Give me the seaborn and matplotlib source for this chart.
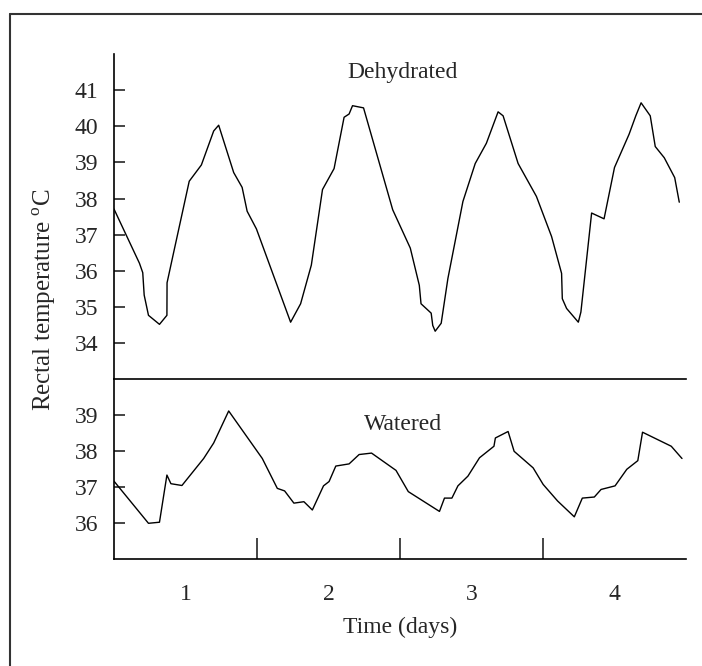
import numpy as np
import pandas as pd
import matplotlib.pyplot as plt
from matplotlib.lines import Line2D
import seaborn as sns

# dehydrated series (time in days, rectal temperature in C)
dehyd_days = [0.500, 0.678, 0.701, 0.711, 0.741, 0.818, 0.870, 0.871, 0.916, 1.026,
              1.111, 1.197, 1.232, 1.337, 1.396, 1.431, 1.496, 1.735, 1.805, 1.880,
              1.958, 2.039, 2.109, 2.144, 2.168, 2.245, 2.449, 2.572, 2.635, 2.647,
              2.718, 2.729, 2.746, 2.788, 2.835, 2.940, 3.026, 3.104, 3.186, 3.221,
              3.326, 3.454, 3.560, 3.630, 3.635, 3.665, 3.747, 3.765, 3.840, 3.927,
              4.000, 4.102, 4.149, 4.186, 4.250, 4.285, 4.348, 4.421, 4.453]
dehyd_temp = [37.71, 36.21, 35.95, 35.33, 34.77, 34.52, 34.77, 35.67, 36.49, 38.48,
              38.93, 39.87, 40.03, 38.72, 38.31, 37.65, 37.16, 34.58, 35.09, 36.16,
              38.25, 38.83, 40.25, 40.34, 40.57, 40.51, 37.69, 36.63, 35.60, 35.09,
              34.83, 34.49, 34.33, 34.55, 35.79, 37.92, 38.97, 39.53, 40.40, 40.29,
              38.97, 38.06, 36.95, 35.93, 35.23, 34.96, 34.58, 34.86, 37.60, 37.44,
              38.86, 39.78, 40.29, 40.65, 40.29, 39.44, 39.13, 38.58, 37.90]

# watered series
water_days = [0.500, 0.741, 0.818, 0.870, 0.898, 0.975, 1.127, 1.197, 1.302, 1.537,
              1.642, 1.693, 1.758, 1.828, 1.887, 1.965, 2.004, 2.051, 2.144, 2.214,
              2.301, 2.472, 2.558, 2.776, 2.811, 2.863, 2.905, 2.975, 3.056, 3.157,
              3.167, 3.256, 3.298, 3.431, 3.501, 3.602, 3.719, 3.775, 3.859, 3.906,
              4.004, 4.086, 4.163, 4.196, 4.397, 4.472]
water_temp = [37.17, 36.00, 36.03, 37.34, 37.10, 37.05, 37.80, 38.23, 39.12, 37.80,
              36.97, 36.90, 36.56, 36.60, 36.37, 37.04, 37.16, 37.59, 37.65, 37.91,
              37.95, 37.47, 36.88, 36.33, 36.70, 36.70, 37.04, 37.31, 37.82, 38.14,
              38.37, 38.55, 38.00, 37.54, 37.08, 36.62, 36.18, 36.70, 36.73, 36.94,
              37.04, 37.50, 37.74, 38.53, 38.14, 37.80]

day_labels = ['1', '2', '3', '4']
day_positions = [1, 2, 3, 4]
day_edges = [1.5, 2.5, 3.5]

dehyd = pd.DataFrame({'day': dehyd_days, 'temp': dehyd_temp})
water = pd.DataFrame({'day': water_days, 'temp': water_temp})

sns.set_style('white')
plt.rcParams['font.family'] = ['Liberation Serif', 'DejaVu Serif']
plt.rcParams['mathtext.fontset'] = 'custom'
plt.rcParams['mathtext.rm'] = 'Liberation Serif'
plt.rcParams['font.size'] = 17

fig = plt.figure(figsize=(7.02, 6.66), dpi=100)
ax_top = fig.add_axes([0.1624, 0.4305, 0.8148, 0.4884])
ax_bot = fig.add_axes([0.1624, 0.1602, 0.8148, 0.2703])

sns.lineplot(data=dehyd, x='day', y='temp', sort=False, color='black', lw=1.0, ax=ax_top)
sns.lineplot(data=water, x='day', y='temp', sort=False, color='black', lw=1.0, ax=ax_bot)

for ax in (ax_top, ax_bot):
    ax.set_xlim(0.5, 4.5)
    ax.set_xlabel('')
    ax.set_ylabel('')
    ax.spines['right'].set_visible(False)
    for s in ax.spines.values():
        s.set_linewidth(1.2)
        s.set_color('black')
    ax.tick_params(axis='y', direction='in', length=8, width=1.2, pad=11.5,
                   labelsize=17, left=True)

ax_top.spines['top'].set_visible(False)
ax_top.spines['bottom'].set_visible(False)
ax_top.set_ylim(33, 42)
ax_top.set_yticks(range(34, 42))
ax_top.set_xticks([])
ax_top.text(2.52, 41.5, 'Dehydrated', ha='center', va='center', fontsize=17)

ax_bot.set_ylim(35, 40)
ax_bot.set_yticks(range(36, 40))
ax_bot.set_xticks(day_positions)
ax_bot.set_xticklabels(day_labels)
ax_bot.set_xticks(day_edges, minor=True)
ax_bot.tick_params(axis='x', which='major', length=0, pad=18, labelsize=17, bottom=True)
ax_bot.tick_params(axis='x', which='minor', direction='in', length=15, width=1.2, bottom=True)
ax_bot.set_xlabel('Time (days)', fontsize=17, labelpad=8)
ax_bot.text(2.52, 38.74, 'Watered', ha='center', va='center', fontsize=17)

fig.text(44 / 702, 1 - 300 / 666, r'Rectal temperature $^{\mathrm{o}}$C',
         rotation=90, ha='center', va='center', fontsize=18)

# partial frame around the figure
fx, fy = 10 / 702, 1 - 14 / 666
fig.add_artist(Line2D([fx, fx], [0, fy], transform=fig.transFigure, color='#333333', lw=1.5))
fig.add_artist(Line2D([fx, 1], [fy, fy], transform=fig.transFigure, color='#333333', lw=1.5))

fig.savefig('out.png', dpi=100)
